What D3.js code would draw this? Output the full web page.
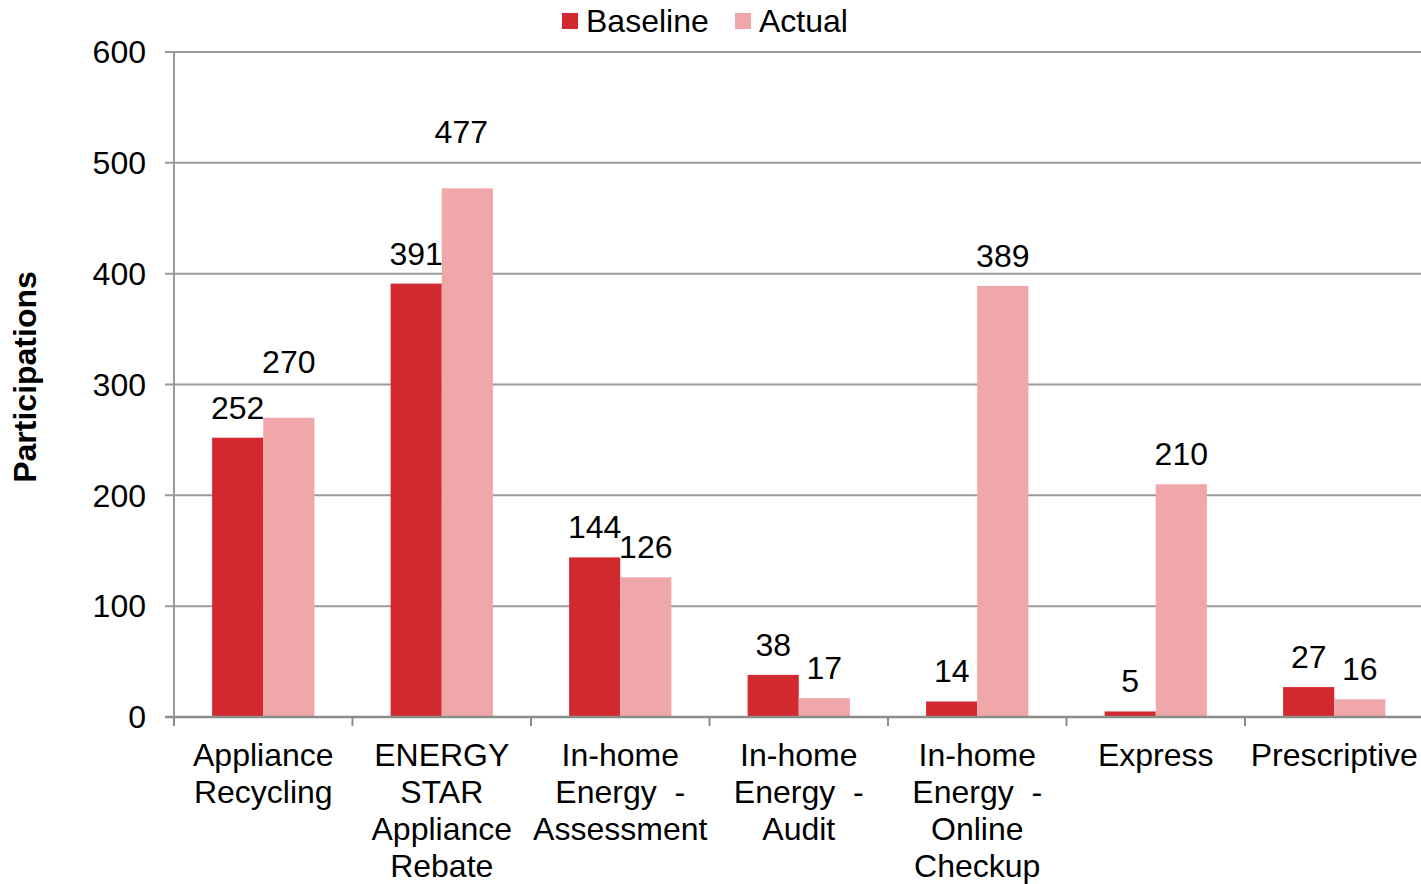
<!DOCTYPE html>
<html>
<head>
<meta charset="utf-8">
<script src="https://cdn.jsdelivr.net/npm/d3@7"></script>
<style>
  html, body { margin: 0; padding: 0; background: #fff; }
  svg { display: block; font-family: "Liberation Sans", Arial, sans-serif; }
</style>
</head>
<body>
<svg id="chart" width="1421" height="884"></svg>
<script>
// Program participation counts
const categories = [
  "Appliance Recycling",
  "ENERGY STAR Appliance Rebate",
  "In-home Energy - Assessment",
  "In-home Energy - Audit",
  "In-home Energy - Online Checkup",
  "Express",
  "Prescriptive"
];
const categoryLines = [
  ["Appliance", "Recycling"],
  ["ENERGY", "STAR", "Appliance", "Rebate"],
  ["In-home", "Energy  -", "Assessment"],
  ["In-home", "Energy  -", "Audit"],
  ["In-home", "Energy  -", "Online", "Checkup"],
  ["Express"],
  ["Prescriptive"]
];
const seriesNames = ["Baseline", "Actual"];
const baseline = [252, 391, 144, 38, 14, 5, 27];
const actual = [270, 477, 126, 17, 389, 210, 16];
const yTicks = [0, 100, 200, 300, 400, 500, 600];

// Label placement nudges where labels would collide: [dx, lift]
const actualLabelNudge = [[0, 26], [-6, 26], [0, 0], [0, 0], [0, 0], [0, 0], [0, 0]];

const colors = { Baseline: "#D2292F", Actual: "#EFA7AA" };
const fontSize = 32;

const svg = d3.select("#chart");
const margin = { left: 174, right: -2.5, top: 52, bottom: 167 };
const W = 1421, H = 884;
const plotBottom = H - margin.bottom; // 717

const x0 = d3.scaleBand()
  .domain(categories)
  .range([margin.left, W - margin.right])
  .paddingInner(0.427)
  .paddingOuter(0.2135);
const x1 = d3.scaleBand()
  .domain(seriesNames)
  .range([0, x0.bandwidth()]);
const y = d3.scaleLinear()
  .domain([0, 600])
  .range([plotBottom, margin.top]);

const gridColor = "#9a9a9a";

// Horizontal gridlines with left tick stubs
svg.append("g")
  .selectAll("line")
  .data(yTicks.filter(d => d > 0))
  .join("line")
  .attr("x1", margin.left - 9)
  .attr("x2", W)
  .attr("y1", d => y(d))
  .attr("y2", d => y(d))
  .attr("stroke", gridColor)
  .attr("stroke-width", 2);

// Y tick labels
svg.append("g")
  .selectAll("text")
  .data(yTicks)
  .join("text")
  .attr("x", 146)
  .attr("y", d => y(d))
  .attr("dy", "0.35em")
  .attr("text-anchor", "end")
  .attr("font-size", fontSize)
  .attr("fill", "#000")
  .text(d => d);

// Bars
const groups = svg.append("g")
  .selectAll("g")
  .data(categories.map((c, i) => ({ c, i, vals: [baseline[i], actual[i]] })))
  .join("g")
  .attr("transform", d => `translate(${x0(d.c)},0)`);

groups.selectAll("rect")
  .data(d => seriesNames.map((s, j) => ({ s, v: d.vals[j] })))
  .join("rect")
  .attr("x", d => x1(d.s))
  .attr("width", x1.bandwidth())
  .attr("y", d => y(d.v))
  .attr("height", d => plotBottom - y(d.v))
  .attr("fill", d => colors[d.s]);

// Value labels
groups.selectAll("text.val")
  .data(d => seriesNames.map((s, j) => ({
    s, v: d.vals[j],
    nudge: j === 1 ? actualLabelNudge[d.i] : [0, 0]
  })))
  .join("text")
  .attr("class", "val")
  .attr("x", d => x1(d.s) + x1.bandwidth() / 2 + d.nudge[0])
  .attr("y", d => y(d.v) - 19 - d.nudge[1])
  .attr("text-anchor", "middle")
  .attr("font-size", fontSize)
  .attr("fill", "#000")
  .text(d => d.v);

// Y axis line
svg.append("line")
  .attr("x1", margin.left).attr("x2", margin.left)
  .attr("y1", margin.top).attr("y2", plotBottom + 9)
  .attr("stroke", gridColor).attr("stroke-width", 2);

// X axis line and category boundary ticks
svg.append("line")
  .attr("x1", margin.left - 9).attr("x2", W)
  .attr("y1", plotBottom).attr("y2", plotBottom)
  .attr("stroke", "#8c8c8c").attr("stroke-width", 2.5);

const step = x0.step();
svg.append("g")
  .selectAll("line")
  .data(categories)
  .join("line")
  .attr("x1", d => x0(d) - x0.paddingOuter() * step)
  .attr("x2", d => x0(d) - x0.paddingOuter() * step)
  .attr("y1", plotBottom)
  .attr("y2", plotBottom + 9)
  .attr("stroke", "#8c8c8c")
  .attr("stroke-width", 2);

// Category labels (wrapped)
const catG = svg.append("g")
  .selectAll("text")
  .data(categories.map((c, i) => ({ c, lines: categoryLines[i] })))
  .join("text")
  .attr("text-anchor", "middle")
  .attr("font-size", fontSize)
  .attr("fill", "#000")
  .attr("transform", d => `translate(${x0(d.c) + x0.bandwidth() / 2},0)`);

catG.selectAll("tspan")
  .data(d => d.lines)
  .join("tspan")
  .attr("x", 0)
  .attr("y", (d, k) => 766 + k * 37)
  .attr("xml:space", "preserve")
  .style("white-space", "pre")
  .text(d => d);

// Y axis title
svg.append("text")
  .attr("transform", "translate(36,377) rotate(-90)")
  .attr("text-anchor", "middle")
  .attr("font-size", fontSize)
  .attr("font-weight", "bold")
  .attr("fill", "#000")
  .text("Participations");

// Legend
const legend = svg.append("g");
const legendItems = [
  { s: "Baseline", x: 562 },
  { s: "Actual", x: 735 }
];
legend.selectAll("rect")
  .data(legendItems)
  .join("rect")
  .attr("x", d => d.x)
  .attr("y", 13)
  .attr("width", 16)
  .attr("height", 16)
  .attr("fill", d => colors[d.s]);
legend.selectAll("text")
  .data(legendItems)
  .join("text")
  .attr("x", d => d.x + 24)
  .attr("y", 21)
  .attr("dy", "0.35em")
  .attr("font-size", fontSize)
  .attr("fill", "#000")
  .text(d => d.s);
</script>
</body>
</html>
